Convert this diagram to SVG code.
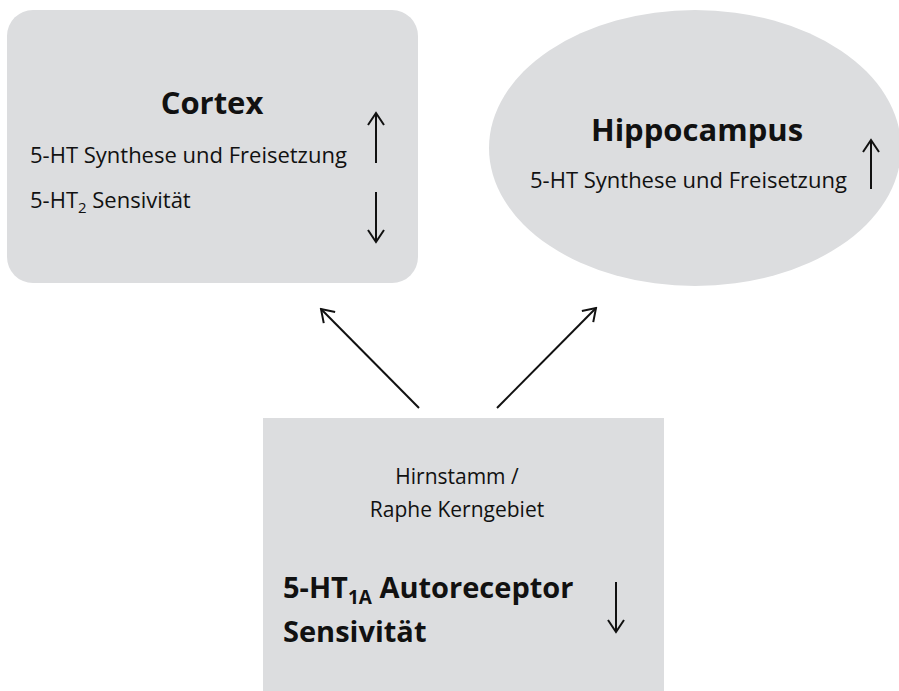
<svg xmlns="http://www.w3.org/2000/svg" width="899" height="691" viewBox="0 0 899 691">
<defs>
<style>
.shape{fill:#dcdddf;stroke:none}
.t{font-family:"Open Sans","Liberation Sans",sans-serif;fill:#111}
.b{font-weight:bold}
.ln{stroke:#111;stroke-width:2;fill:none}
</style>
<marker id="ah" viewBox="0 0 20 20" refX="18" refY="10" markerWidth="20" markerHeight="20" markerUnits="userSpaceOnUse" orient="auto">
<path d="M6,2 L18,10 L6,18" fill="none" stroke="#111" stroke-width="2"/>
</marker>
</defs>
<rect width="899" height="691" fill="#fff"/>
<g id="cortex">
<rect class="shape" x="7" y="10" width="411" height="273" rx="26"/>
<text class="t b" x="212" y="114" font-size="31" text-anchor="middle">Cortex</text>
<text class="t" x="30" y="163" font-size="22">5-HT Synthese und Freisetzung</text>
<text class="t" x="30" y="208" font-size="22">5-HT<tspan font-size="15" dy="5">2</tspan><tspan dy="-5"> Sensivität</tspan></text>
<line class="ln" x1="376" y1="163" x2="376" y2="113" marker-end="url(#ah)"/>
<line class="ln" x1="376" y1="192" x2="376" y2="242" marker-end="url(#ah)"/>
</g>
<g id="hippocampus">
<ellipse class="shape" cx="695" cy="148" rx="206" ry="138"/>
<text class="t b" x="697" y="141" font-size="31" text-anchor="middle">Hippocampus</text>
<text class="t" x="530" y="188" font-size="22">5-HT Synthese und Freisetzung</text>
<line class="ln" x1="871" y1="189" x2="871" y2="140" marker-end="url(#ah)"/>
</g>
<g id="raphe">
<rect class="shape" x="263" y="418" width="401" height="273"/>
<text class="t" x="457" y="484" font-size="21" text-anchor="middle">Hirnstamm /</text>
<text class="t" x="457" y="517" font-size="21" text-anchor="middle">Raphe Kerngebiet</text>
<text class="t b" x="283" y="598" font-size="29">5-HT<tspan font-size="19" dy="6">1A</tspan><tspan dy="-6"> Autoreceptor</tspan></text>
<text class="t b" x="283" y="642" font-size="29">Sensivität</text>
<line class="ln" x1="616" y1="582" x2="616" y2="632" marker-end="url(#ah)"/>
</g>
<g id="connectors">
<line class="ln" x1="419" y1="408" x2="321" y2="309" marker-end="url(#ah)"/>
<line class="ln" x1="497" y1="408" x2="596" y2="308" marker-end="url(#ah)"/>
</g>
</svg>
